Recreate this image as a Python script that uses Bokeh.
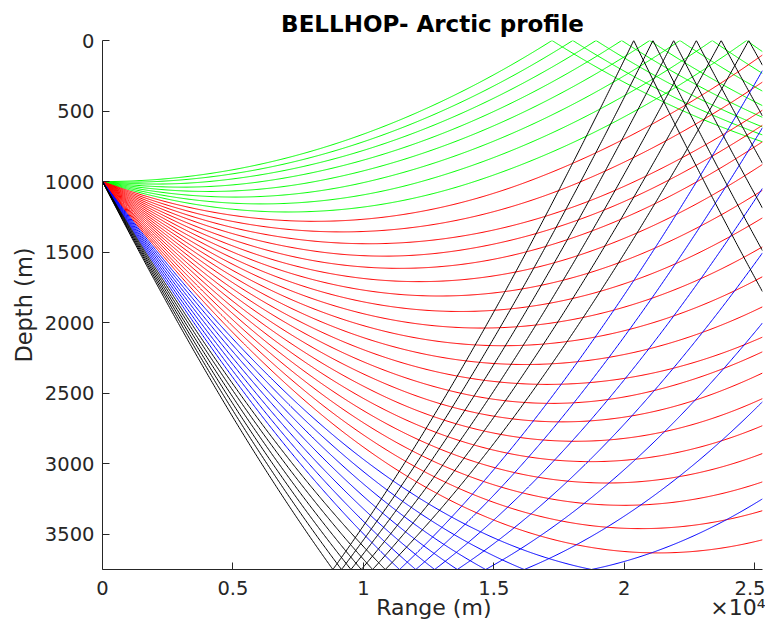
import bisect
import math
from bokeh.plotting import figure
from bokeh.models import Range1d, FixedTicker, LinearAxis
from bokeh.embed import file_html
from bokeh.resources import INLINE

# ---- environment ----
ssp_depth = [0.0, 1000.0, 1500.0, 2500.0, 3750.0]
ssp_speed = [1450.2, 1460.0, 1466.2, 1480.8, 1502.7]
source_depth = 1000.0
bottom_depth = 3750.0
max_range = 25300.0
alpha_min = 0.0      # deg, positive = downward
alpha_max = 19.8
n_beams = 41

x_tick_values = [0, 5000, 10000, 15000, 20000, 25000]
x_tick_labels = ["0", "0.5", "1", "1.5", "2", "2.5"]
y_tick_values = [0, 500, 1000, 1500, 2000, 2500, 3000, 3500]
y_tick_labels = ["0", "500", "1000", "1500", "2000", "2500", "3000", "3500"]
x_label_text = "Range (m)"
x_exponent_text = "\u00d710\u2074"


def ssp(z):
    i = bisect.bisect_right(ssp_depth, z) - 1
    i = max(0, min(i, len(ssp_depth) - 2))
    g = (ssp_speed[i + 1] - ssp_speed[i]) / (ssp_depth[i + 1] - ssp_depth[i])
    return ssp_speed[i] + g * (z - ssp_depth[i]), g


def trace(alpha_deg, ds=5.0, keep=8):
    th = math.radians(alpha_deg)
    r, z = 0.0, source_depth
    rs, zs = [r], [z]
    ntop = nbot = 0
    k = 0
    while True:
        c, g = ssp(z)
        k1 = -g / c * math.cos(th)
        thm = th + 0.5 * ds * k1
        zm = z + 0.5 * ds * math.sin(th)
        cm, gm = ssp(min(max(zm, 0.0), bottom_depth))
        km = -gm / cm * math.cos(thm)
        rn = r + ds * math.cos(thm)
        zn = z + ds * math.sin(thm)
        thn = th + ds * km
        if rn >= max_range:
            f = (max_range - r) / (rn - r)
            rs.append(max_range)
            zs.append(z + f * (zn - z))
            break
        if zn < 0.0:
            f = z / (z - zn)
            rs.append(r + f * (rn - r)); zs.append(0.0)
            zn = -zn; thn = -thn; ntop += 1
        elif zn > bottom_depth:
            f = (bottom_depth - z) / (zn - z)
            rs.append(r + f * (rn - r)); zs.append(bottom_depth)
            zn = 2 * bottom_depth - zn; thn = -thn; nbot += 1
        r, z, th = rn, zn, thn
        k += 1
        if k % keep == 0:
            rs.append(r); zs.append(z)
    if ntop and nbot:
        col = "#000000"
    elif nbot:
        col = "#0000ff"
    elif ntop:
        col = "#00ff00"
    else:
        col = "#ff0000"
    return rs, zs, col


angles = [alpha_min + i * (alpha_max - alpha_min) / (n_beams - 1) for i in range(n_beams)]

p = figure(width=765, height=626, output_backend="svg", toolbar_location=None,
           x_range=Range1d(0, max_range), y_range=Range1d(bottom_depth, 0),
           min_border_left=102, min_border_right=3, min_border_top=40,
           min_border_bottom=57)

xs, ys, cols = [], [], []
for a in angles:
    rr, zz, cc = trace(a)
    xs.append(rr); ys.append(zz); cols.append(cc)
p.multi_line(xs=xs, ys=ys, line_color=cols, line_width=1.0)

p.grid.visible = False
p.outline_line_color = None
p.background_fill_color = "white"
p.border_fill_color = "white"

p.title.text = "BELLHOP- Arctic profile"
p.title.text_font = "DejaVu Sans"
p.title.text_font_size = "23px"
p.title.text_font_style = "bold"
p.title.align = "center"
p.title.text_color = "#000000"
p.title.standoff = 7
p.title.offset = 4

for ax in (p.xaxis[0], p.yaxis[0]):
    ax.axis_line_color = "#262626"
    ax.major_tick_line_color = "#262626"
    ax.major_tick_in = 7
    ax.major_tick_out = 0
    ax.minor_tick_line_color = None
    ax.major_label_text_font = "DejaVu Sans"
    ax.major_label_text_font_size = "19.5px"
    ax.major_label_text_color = "#262626"
    ax.axis_label_text_font = "DejaVu Sans"
    ax.axis_label_text_font_size = "22.5px"
    ax.axis_label_text_font_style = "normal"
    ax.axis_label_text_color = "#262626"

p.xaxis.ticker = FixedTicker(ticks=x_tick_values)
p.xaxis.major_label_overrides = dict(zip(x_tick_values, x_tick_labels))
p.yaxis.ticker = FixedTicker(ticks=y_tick_values)
p.yaxis.major_label_overrides = dict(zip(y_tick_values, y_tick_labels))
p.yaxis.axis_label = "Depth (m)"
p.xaxis.major_label_standoff = 11
p.yaxis.major_label_standoff = 8
p.yaxis.axis_label_standoff = 5

# second row under the x axis: axis title and the x10^4 multiplier side by side
label_pos = [12700, 24380]
lab_axis = LinearAxis(ticker=FixedTicker(ticks=label_pos),
                      major_label_overrides={label_pos[0]: x_label_text,
                                             label_pos[1]: x_exponent_text})
lab_axis.axis_line_color = None
lab_axis.major_tick_line_color = None
lab_axis.minor_tick_line_color = None
lab_axis.major_tick_in = 0
lab_axis.major_tick_out = 0
lab_axis.major_label_standoff = -3
lab_axis.major_label_text_font = "DejaVu Sans"
lab_axis.major_label_text_font_size = "22px"
lab_axis.major_label_text_color = "#262626"
p.add_layout(lab_axis, "below")

open("out.html", "w").write(file_html(p, INLINE))
